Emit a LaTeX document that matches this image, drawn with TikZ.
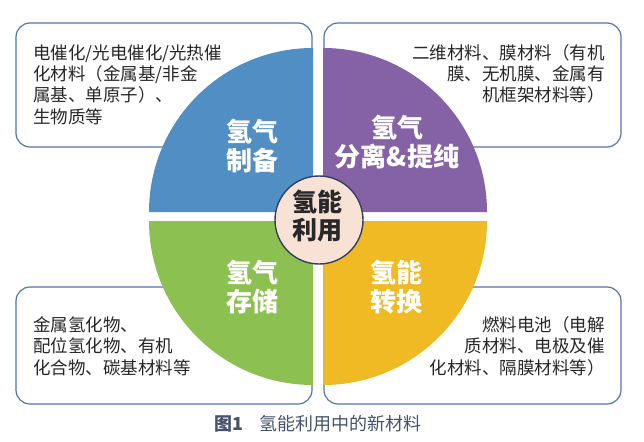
\documentclass[tikz,border=0pt]{standalone}
\usepackage{fontspec}
\setmainfont{Noto Sans CJK SC}
\definecolor{qblue}{RGB}{80,142,196}
\definecolor{qpurple}{RGB}{133,98,166}
\definecolor{qgreen}{RGB}{140,193,82}
\definecolor{qyellow}{RGB}{240,186,36}
\definecolor{circf}{RGB}{248,226,214}
\definecolor{circd}{RGB}{52,64,96}
\definecolor{boxc}{RGB}{84,118,172}
\definecolor{txtc}{RGB}{40,40,40}
\definecolor{capc}{RGB}{70,84,110}
\begin{document}
\begin{tikzpicture}[x=1pt,y=-1pt,
  box/.style={draw=boxc, line width=1.2pt, rounded corners=14pt, fill=white, inner sep=0pt},
  txt/.style={text=txtc, font=\fontsize{17.5}{21.3}\selectfont, inner sep=0pt},
  qlab/.style={text=white, font=\fontsize{26}{29}\selectfont\bfseries, align=center, inner sep=0pt},
]
\useasboundingbox (0,0) rectangle (644,441);
\fill[white] (0,0) rectangle (644,441);
% boxes
\node[box, minimum width=296pt, minimum height=124pt] (b1) at (164,85) {};
\node[box, minimum width=297pt, minimum height=124pt] (b2) at (472.5,85) {};
\node[box, minimum width=296pt, minimum height=117pt] (b3) at (164,345.5) {};
\node[box, minimum width=297pt, minimum height=117pt] (b4) at (472.5,345.5) {};
% quadrants
\fill[qblue] (313,212) -- (149,212) arc[start angle=180, end angle=270, radius=164] -- cycle;
\fill[qpurple] (323,212) -- (323,48) arc[start angle=270, end angle=360, radius=164] -- cycle;
\fill[qyellow] (323,221) -- (487,221) arc[start angle=0, end angle=90, radius=164] -- cycle;
\fill[qgreen] (313,221) -- (313,385) arc[start angle=90, end angle=180, radius=164] -- cycle;
% center
\node[circle, draw=circd, line width=1.4pt, fill=circf, minimum size=88pt, inner sep=0pt] (c) at (319,220) {};
\node[text=txtc, font=\fontsize{25}{28}\selectfont\bfseries, align=center, inner sep=0pt] (ct) at (317,216) {氢能\\利用};
% quadrant labels
\node[qlab] (q1) at (252,146) {氢气\\制备};
\node[qlab] (q2) at (397,142.5) {氢气\\分离\&提纯};
\node[qlab] (q3) at (252,287.5) {氢气\\存储};
\node[qlab] (q4) at (396,287.5) {氢能\\转换};
% texts (base anchor = last line baseline)
\node[txt, align=left, anchor=base west] (t1) at (33,123) {电催化/光电催化/光热催\\化材料（金属基/非金\\属基、单原子）、\\生物质等};
\node[txt, align=right, anchor=base east] (t2) at (605,102) {二维材料、膜材料（有机\\膜、无机膜、金属有\\机框架材料等）};
\node[txt, align=left, anchor=base west] (t3) at (33,374) {金属氢化物、\\配位氢化物、有机\\化合物、碳基材料等};
\node[txt, align=right, anchor=base east] (t4) at (605,374) {燃料电池（电解\\质材料、电极及催\\化材料、隔膜材料等）};
% caption
\node[text=capc, font=\fontsize{18}{20}\selectfont, inner sep=0pt] (cap) at (318,424) {\textbf{图1}\hspace{16pt}氢能利用中的新材料};
\end{tikzpicture}
\end{document}
